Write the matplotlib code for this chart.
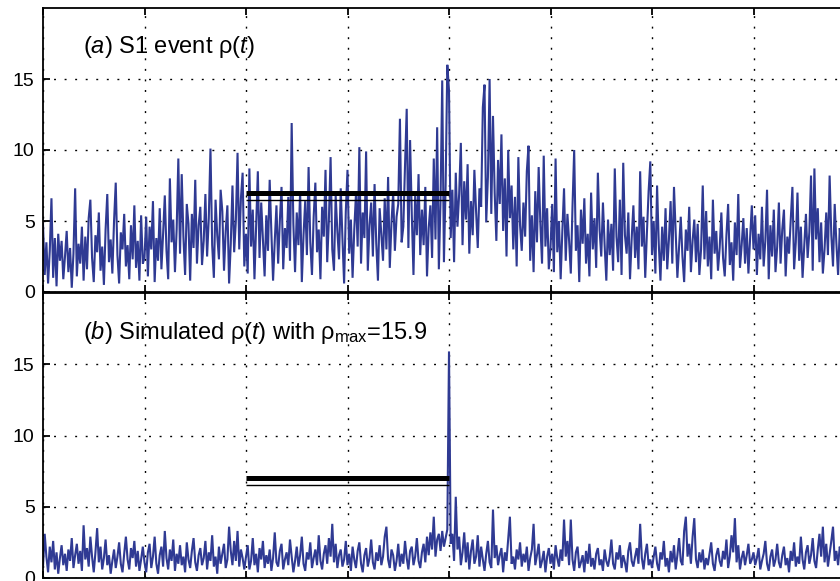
import numpy as np
import matplotlib
matplotlib.use('Agg')
import matplotlib.pyplot as plt

plt.rcParams['font.family'] = ['Liberation Sans', 'DejaVu Sans']
plt.rcParams['mathtext.fontset'] = 'custom'
plt.rcParams['mathtext.rm'] = 'Liberation Sans'
plt.rcParams['mathtext.it'] = 'Liberation Sans:italic'

#### data (60 samples per x unit)

samples_per_unit = 60

rho_s1 = [
    4.8, 1.2, 3.5, 0.6, 2.9, 6.6, 1.0, 3.8, 0.4, 4.1,
    2.2, 3.6, 0.9, 2.5, 4.3, 1.4, 3.1, 0.3, 2.7, 7.3,
    1.1, 3.4, 2.0, 4.6, 0.8, 3.9, 1.6, 5.2, 6.5, 2.4,
    0.7, 4.0, 2.8, 5.6, 1.5, 3.2, 0.5, 4.4, 6.9, 2.1,
    3.7, 1.3, 5.0, 7.7, 2.6, 0.6, 4.2, 3.0, 5.5, 1.8,
    3.3, 0.9, 4.7, 2.3, 6.1, 1.7, 3.6, 0.8, 5.4, 2.0,
    # 1-2
    2.4, 5.3, 1.1, 4.6, 3.0, 6.4, 0.7, 3.8, 2.2, 5.9,
    1.6, 4.1, 6.8, 2.9, 0.9, 8.0, 3.5, 5.1, 1.4, 4.4,
    9.4, 2.7, 8.3, 3.9, 1.2, 6.2, 4.8, 0.8, 5.5, 3.1,
    7.9, 2.0, 4.7, 6.0, 1.9, 3.6, 6.9, 2.5, 5.2, 10.1,
    3.3, 1.0, 6.5, 4.0, 2.3, 7.2, 5.7, 1.5, 4.3, 6.1,
    0.6, 3.4, 7.5, 2.8, 5.0, 9.8, 3.0, 6.6, 8.4, 1.8,
    # 2-3
    4.1, 1.3, 8.7, 3.2, 5.8, 0.9, 4.6, 8.5, 2.4, 6.3,
    3.7, 1.1, 5.4, 2.9, 7.9, 4.2, 0.8, 3.6, 6.1, 2.0,
    5.0, 7.4, 1.6, 4.5, 3.1, 6.7, 2.2, 11.9, 4.8, 1.4,
    5.6, 3.3, 7.1, 0.7, 4.0, 6.4, 2.6, 8.8, 3.5, 1.2,
    5.3, 7.7, 2.8, 4.4, 0.9, 6.0, 3.9, 8.6, 2.1, 5.1,
    9.5, 3.0, 1.5, 6.8, 4.3, 2.3, 7.3, 3.8, 0.6, 5.7,
    # 3-4
    8.6, 2.7, 5.1, 1.0, 4.4, 6.9, 3.2, 10.2, 2.0, 5.6,
    3.8, 9.9, 1.5, 4.7, 6.3, 2.5, 7.6, 3.4, 0.8, 5.9,
    4.1, 2.2, 6.6, 3.0, 8.1, 1.7, 4.9, 7.0, 2.9, 5.3,
    6.2, 12.2, 3.5, 4.6, 8.9, 12.9, 3.1, 10.7, 5.5, 1.2,
    6.8, 4.0, 8.3, 2.6, 5.8, 3.3, 7.4, 1.1, 4.5, 6.1,
    2.4, 9.4, 3.7, 11.6, 1.6, 6.5, 14.9, 2.1, 7.5, 16.0,
    # 4-5
    14.2, 3.8, 7.2, 2.1, 8.4, 4.6, 6.9, 10.5, 3.3, 7.8,
    5.1, 9.0, 2.7, 6.4, 4.0, 8.6, 5.7, 3.1, 7.3, 6.0,
    13.0, 14.6, 4.9, 8.1, 15.0, 5.5, 12.4, 7.0, 3.6, 9.3,
    6.2, 11.1, 4.3, 8.0, 2.5, 10.0, 5.2, 7.5, 3.0, 6.7,
    1.8, 9.5, 4.7, 2.9, 6.3, 3.9, 8.5, 10.3, 2.2, 5.4,
    1.4, 7.1, 3.5, 8.8, 4.8, 2.0, 9.6, 3.2, 5.9, 1.6,
    # 5-6
    3.1, 6.2, 1.4, 9.4, 2.8, 5.0, 0.9, 4.3, 7.3, 2.2,
    5.5, 3.6, 1.3, 6.0, 10.0, 2.9, 4.7, 0.7, 5.8, 3.4,
    6.6, 2.0, 4.1, 1.1, 7.0, 3.0, 5.2, 1.7, 8.4, 4.4,
    2.5, 6.3, 3.3, 0.8, 5.1, 2.6, 4.8, 1.5, 8.7, 3.9,
    2.1, 6.5, 1.2, 9.1, 4.0, 2.7, 5.6, 0.9, 3.8, 6.1,
    2.4, 4.6, 1.6, 8.5, 3.2, 5.3, 1.0, 4.2, 7.1, 9.2,
    # 6-7
    2.6, 5.0, 1.3, 7.5, 3.4, 0.8, 4.6, 2.2, 5.9, 1.6,
    3.7, 6.4, 2.0, 7.4, 4.1, 1.0, 3.2, 5.3, 2.5, 0.7,
    4.4, 2.9, 6.0, 1.4, 3.6, 5.1, 2.1, 4.8, 1.2, 3.0,
    7.5, 2.3, 5.7, 1.8, 3.9, 0.9, 6.5, 2.7, 4.3, 1.5,
    3.1, 5.6, 2.4, 1.1, 4.0, 6.2, 1.9, 3.5, 0.8, 4.9,
    2.6, 6.9, 1.7, 3.3, 5.2, 2.0, 4.5, 1.3, 3.8, 6.1,
    # 7-8
    3.0, 5.4, 1.2, 4.1, 2.3, 6.0, 1.8, 3.6, 7.2, 0.9,
    4.7, 2.5, 5.8, 1.4, 3.2, 6.3, 2.0, 4.4, 5.8, 1.1,
    3.9, 2.7, 5.1, 7.4, 1.6, 3.5, 7.0, 2.2, 4.6, 1.0,
    3.3, 5.5, 2.4, 4.2, 8.2, 1.5, 8.7, 3.7, 5.9, 2.1,
    4.9, 1.3, 3.0, 5.6, 2.6, 8.2, 4.0, 1.8, 6.2, 3.4,
    1.2, 4.5, 2.8, 5.3, 1.7, 3.9, 2.3, 4.8, 1.5, 3.1,
]

rho_sim = [
    0.8, 3.1, 1.5, 0.4, 2.2, 1.1, 2.6, 0.6, 1.8, 0.3,
    1.4, 2.3, 0.9, 1.7, 0.5, 2.0, 1.2, 2.8, 0.7, 1.6,
    2.4, 1.0, 1.9, 0.5, 3.7, 1.3, 2.1, 0.8, 2.9, 1.5,
    0.4, 1.8, 3.5, 1.1, 2.2, 0.6, 1.4, 2.7, 0.9, 1.6,
    0.3, 1.2, 2.0, 0.7, 1.5, 2.5, 1.0, 0.4, 1.7, 2.9,
    1.3, 0.6, 2.1, 1.4, 2.6, 0.8, 1.9, 0.5, 1.3, 2.2,
    # 1-2
    1.1, 0.4, 1.8, 2.4, 0.7, 1.5, 2.9, 1.0, 0.3, 1.6,
    2.2, 0.8, 3.3, 1.4, 0.6, 2.0, 1.2, 2.7, 0.5, 1.7,
    1.0, 2.3, 0.9, 1.5, 0.4, 2.5, 1.3, 0.7, 1.9, 2.8,
    1.1, 0.5, 1.6, 2.1, 0.9, 1.4, 2.6, 0.6, 1.8, 1.2,
    3.0, 0.8, 1.5, 0.3, 2.2, 1.0, 1.7, 2.4, 0.7, 1.3,
    3.6, 1.9, 0.9, 2.6, 1.2, 3.3, 0.8, 2.0, 1.4, 0.6,
    # 2-3
    1.5, 2.3, 0.6, 1.2, 2.8, 0.9, 1.7, 0.4, 2.1, 1.3,
    2.6, 0.7, 1.6, 1.0, 2.0, 0.5, 1.4, 3.2, 1.1, 0.8,
    1.9, 2.4, 0.6, 1.3, 1.8, 0.9, 2.7, 1.5, 0.4, 1.2,
    2.2, 0.8, 1.6, 2.9, 1.0, 0.5, 1.8, 1.3, 2.5, 0.7,
    1.4, 2.0, 0.9, 3.0, 1.2, 0.6, 1.7, 2.3, 1.0, 2.8,
    1.5, 3.8, 1.1, 2.4, 0.7, 1.6, 2.0, 0.8, 1.3, 2.6,
    # 3-4
    0.9, 1.7, 0.5, 2.2, 1.3, 0.7, 1.9, 2.5, 1.0, 0.4,
    1.6, 2.1, 0.8, 1.4, 2.7, 1.1, 0.6, 1.8, 1.2, 2.3,
    0.9, 1.5, 2.9, 3.6, 1.3, 0.7, 2.0, 1.6, 0.5, 1.2,
    2.4, 0.8, 1.7, 1.0, 2.6, 1.4, 0.6, 1.9, 2.2, 0.9,
    1.5, 2.8, 1.2, 0.7, 1.8, 2.4, 1.1, 2.9, 1.6, 3.2,
    2.0, 4.3, 1.5, 2.7, 3.1, 1.9, 3.3, 2.2, 2.8, 3.4,
    # 4-5 (rho_max at t=4)
    15.9, 2.4, 3.1, 1.2, 5.7, 2.0, 2.9, 0.9, 1.8, 3.2,
    1.1, 2.5, 0.6, 1.9, 2.7, 1.0, 1.5, 3.0, 0.8, 2.2,
    1.3, 0.5, 1.7, 2.6, 1.1, 0.7, 4.8, 1.4, 2.3, 0.9,
    1.6, 2.1, 0.4, 1.8, 1.2, 2.8, 4.3, 1.0, 1.5, 0.6,
    2.0, 1.3, 2.5, 0.8, 1.7, 1.1, 2.2, 0.5, 1.4, 2.0,
    3.8, 0.9, 1.6, 2.4, 0.7, 1.2, 1.9, 0.4, 1.5, 2.1,
    # 5-6
    1.0, 1.7, 0.6, 2.3, 1.4, 0.8, 2.0, 1.2, 4.1, 1.5,
    2.6, 0.9, 4.1, 1.3, 0.5, 1.8, 2.2, 0.7, 1.1, 1.6,
    0.4, 1.9, 1.0, 2.4, 0.8, 1.4, 0.6, 1.7, 2.1, 0.9,
    1.3, 0.5, 2.0, 1.2, 0.8, 1.5, 2.7, 1.0, 0.6, 1.8,
    1.3, 2.3, 0.7, 1.6, 1.1, 0.4, 1.9, 2.5, 1.2, 0.8,
    1.5, 2.1, 1.0, 3.8, 1.4, 0.6, 1.7, 2.4, 0.9, 1.3,
    # 6-7
    0.7, 1.5, 2.2, 1.0, 0.5, 1.8, 1.3, 2.6, 0.8, 1.4,
    0.4, 1.9, 1.1, 2.3, 0.6, 1.6, 2.8, 1.2, 0.9, 3.3,
    4.3, 1.5, 2.4, 1.0, 2.9, 4.2, 1.3, 0.7, 1.8, 1.1,
    2.0, 0.6, 1.4, 0.9, 1.7, 2.5, 1.0, 0.5, 1.6, 2.1,
    1.2, 0.8, 1.9, 1.3, 2.7, 0.7, 1.5, 3.0, 1.8, 4.2,
    1.1, 2.3, 0.6, 1.4, 1.9, 0.9, 1.6, 2.4, 1.0, 1.3,
    # 7-8
    1.8, 0.9, 1.4, 2.1, 0.6, 1.2, 1.7, 2.6, 1.0, 0.5,
    1.5, 2.0, 0.8, 1.3, 2.4, 1.1, 0.7, 1.6, 2.2, 0.9,
    1.4, 0.4, 1.9, 1.2, 2.5, 0.8, 1.5, 1.0, 2.9, 1.3,
    0.6, 1.8, 2.3, 1.0, 1.6, 2.8, 1.2, 0.7, 2.0, 3.1,
    1.5, 3.6, 1.1, 2.4, 0.8, 1.7, 2.6, 3.6, 1.2, 1.9,
    0.9, 2.2, 1.4, 0.6, 1.8, 2.7, 1.0, 1.5, 2.1, 1.3,
]

# window markers (thick and thin horizontal bars)
window_x = [2, 4]
level_thick = 7.0
level_thin = 6.5

y_ticks = [0, 5, 10, 15]
x_ticks = list(range(0, 9))

titles = [r'($\it{a}$) S1 event ρ($\it{t}$)',
          r'($\it{b}$) Simulated ρ($\it{t}$) with ρ$_{\rm{max}}$=15.9']
series = [rho_s1, rho_sim]

#### plot

W, H = 840, 581
fig = plt.figure(figsize=(W / 100, H / 100), dpi=100)
x0 = 43 / W
x1 = 855 / W
ax_top = fig.add_axes([x0, 1 - 292 / H, x1 - x0, 284 / H])
ax_bot = fig.add_axes([x0, 1 - 578 / H, x1 - x0, 285 / H])

blue = '#2f3a93'
for ax, y, title, ty in zip([ax_top, ax_bot], series, titles, [16.85, 16.75]):
    t = np.arange(len(y)) / samples_per_unit
    ax.plot(t, y, color=blue, lw=1.5, zorder=2, solid_joinstyle='miter')
    ax.plot(window_x, [level_thick, level_thick], color='black', lw=3.6,
            solid_capstyle='butt', zorder=3)
    ax.plot(window_x, [level_thin, level_thin], color='black', lw=1.0,
            solid_capstyle='butt', zorder=3)
    ax.set_xlim(0, 8)
    ax.set_ylim(0, 20)
    ax.set_xticks(x_ticks)
    ax.set_yticks(y_ticks)
    ax.set_xticklabels([])
    ax.grid(True, color='black', lw=1.0, linestyle=(0, (1.4, 6.2)))
    ax.set_axisbelow(True)
    ax.tick_params(direction='in', length=5, width=1.3, top=True, right=True,
                   labelsize=14, pad=6)
    for s in ax.spines.values():
        s.set_linewidth(1.3)
    ax.text(0.39, ty, title, fontsize=17, va='baseline', ha='left')

fig.savefig('out.png', dpi=100)
